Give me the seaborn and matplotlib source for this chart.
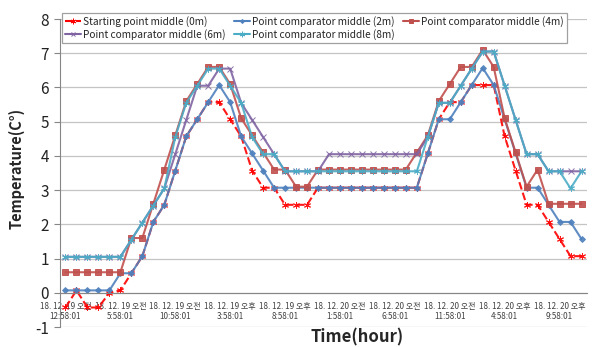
import matplotlib
matplotlib.use("Agg")
import matplotlib.pyplot as plt
import seaborn as sns
import numpy as np
import pandas as pd
from matplotlib.lines import Line2D

# ---- data ----
hours = list(range(48))
tick_idx = [0, 5, 10, 15, 20, 25, 30, 35, 40, 45]
tick_labels = [
    "18. 12. 19 오전\n12:58:01", "18. 12. 19 오전\n5:58:01", "18. 12. 19 오전\n10:58:01",
    "18. 12. 19 오후\n3:58:01", "18. 12. 19 오후\n8:58:01", "18. 12. 20 오전\n1:58:01",
    "18. 12. 20 오전\n6:58:01", "18. 12. 20 오전\n11:58:01", "18. 12. 20 오후\n4:58:01",
    "18. 12. 20 오후\n9:58:01",
]
names = ["Starting point middle (0m)", "Point comparator middle (2m)",
         "Point comparator middle (4m)", "Point comparator middle (6m)",
         "Point comparator middle (8m)"]

s0m = [-0.43, 0.07, -0.43, -0.43, 0.0, 0.07, 0.57, 1.07, 2.07, 2.57, 3.57, 4.57,
       5.07, 5.57, 5.57, 5.07, 4.57, 3.57, 3.07, 3.07, 2.57, 2.57, 2.57, 3.07,
       3.07, 3.07, 3.07, 3.07, 3.07, 3.07, 3.07, 3.07, 3.07, 4.07, 5.07, 5.57,
       5.57, 6.07, 6.07, 6.07, 4.57, 3.57, 2.57, 2.57, 2.07, 1.57, 1.07, 1.07]
s2m = [0.07, 0.07, 0.07, 0.07, 0.07, 0.57, 0.57, 1.07, 2.07, 2.57, 3.57, 4.57,
       5.07, 5.57, 6.07, 5.57, 4.57, 4.07, 3.57, 3.07, 3.07, 3.07, 3.07, 3.07,
       3.07, 3.07, 3.07, 3.07, 3.07, 3.07, 3.07, 3.07, 3.07, 4.07, 5.07, 5.07,
       5.57, 6.07, 6.57, 6.07, 5.07, 4.07, 3.07, 3.07, 2.57, 2.07, 2.07, 1.57]
s4m = [0.6, 0.6, 0.6, 0.6, 0.6, 0.6, 1.6, 1.6, 2.6, 3.6, 4.6, 5.6,
       6.1, 6.6, 6.6, 6.1, 5.1, 4.6, 4.1, 3.6, 3.6, 3.1, 3.1, 3.6,
       3.6, 3.6, 3.6, 3.6, 3.6, 3.6, 3.6, 3.6, 4.1, 4.6, 5.6, 6.1,
       6.6, 6.6, 7.1, 6.6, 5.1, 4.1, 3.1, 3.6, 2.6, 2.6, 2.6, 2.6]
s6m = [1.05, 1.05, 1.05, 1.05, 1.05, 1.05, 1.55, 2.05, 2.55, 3.05, 4.05, 5.05,
       6.05, 6.05, 6.55, 6.55, 5.55, 5.05, 4.55, 4.05, 3.55, 3.55, 3.55, 3.55,
       4.05, 4.05, 4.05, 4.05, 4.05, 4.05, 4.05, 4.05, 4.05, 4.55, 5.55, 5.55,
       6.05, 6.55, 7.05, 7.05, 6.05, 5.05, 4.05, 4.05, 3.55, 3.55, 3.55, 3.55]
s8m = [1.05, 1.05, 1.05, 1.05, 1.05, 1.05, 1.55, 2.05, 2.55, 3.05, 4.55, 5.55,
       6.05, 6.55, 6.55, 6.05, 5.55, 4.55, 4.05, 4.05, 3.55, 3.55, 3.55, 3.55,
       3.55, 3.55, 3.55, 3.55, 3.55, 3.55, 3.55, 3.55, 3.55, 4.55, 5.55, 5.55,
       6.05, 6.55, 7.05, 7.05, 6.05, 5.05, 4.05, 4.05, 3.55, 3.55, 3.05, 3.55]

# ---- style ----
sns.set_style("white")
plt.rcParams['font.family'] = ['Noto Sans CJK KR', 'DejaVu Sans']
plt.rcParams['axes.unicode_minus'] = False

fig = plt.figure(figsize=(6.12, 3.47), dpi=100)
ax = fig.add_axes([60 / 612, 1 - 327 / 347, 527 / 612, 308 / 347])

series = [s0m, s2m, s4m, s6m, s8m]
colors = ["#FF0000", "#4F81BD", "#C0504D", "#8064A2", "#4BACC6"]
markers = [(6, 2, 0), "D", "s", "x", (6, 2, 0)]
msizes = [5, 3, 4, 4, 5]
lstyles = ["--", "-", "-", "-", "-"]

handles = []
for vals, name, c, m, ms, ls in zip(series, names, colors, markers, msizes, lstyles):
    df = pd.DataFrame({"hour": hours, "temp": vals})
    sns.lineplot(data=df, x="hour", y="temp", ax=ax, color=c, marker=m,
                 markersize=ms, linestyle=ls, linewidth=1.5,
                 markeredgecolor=c, markerfacecolor=c, markeredgewidth=0.7,
                 alpha=0.9, legend=False)
    handles.append(Line2D([], [], color=c, marker=m, markersize=ms - 1,
                          linestyle=ls, linewidth=1.5, markeredgecolor=c,
                          markeredgewidth=0.7))

ax.set_xlim(-0.5, 47.5)
ax.set_ylim(-1, 8)
ax.set_yticks(range(-1, 9))
ax.yaxis.grid(True, color="#c4c4c4", linewidth=0.9)
ax.set_axisbelow(True)

for sp in ["top", "right"]:
    ax.spines[sp].set_visible(False)
ax.spines["left"].set_color("#868686")
ax.spines["bottom"].set_color("#868686")
ax.spines["bottom"].set_position(("data", 0))

ax.set_xticks(tick_idx)
ax.set_xticklabels(tick_labels, fontsize=5.8, color="#404040", linespacing=1.2)
ax.set_xticks(np.arange(-0.5, 48, 1), minor=True)
ax.tick_params(axis="x", which="major", length=0, pad=6.5)
ax.tick_params(axis="x", which="minor", length=3, color="#868686", direction="out")
ax.tick_params(axis="y", length=4, color="#868686", labelsize=11, labelcolor="#222222", pad=4)
ax.tick_params(axis="y", which="both", left=True)

ax.set_xlabel("")
ax.set_ylabel("")
fig.text(17 / 612, 1 - 168 / 347, "Temperature(C°)", rotation=90, fontsize=10.5,
         fontweight="bold", ha="center", va="center")
fig.text(357 / 612, 1 - 337 / 347, "Time(hour)", fontsize=12,
         fontweight="bold", ha="center", va="center")

order = [0, 3, 1, 4, 2]
leg = fig.legend([handles[i] for i in order], [names[i] for i in order],
                 ncol=3, loc="upper left", bbox_to_anchor=(62 / 612, 1 - 13 / 347),
                 fontsize=7.3, frameon=True, fancybox=False, edgecolor="#a0a0a0",
                 framealpha=1, borderpad=0.3, labelspacing=0.2, handlelength=1.6,
                 handletextpad=0.2, columnspacing=0.8, borderaxespad=0)
leg.get_frame().set_linewidth(0.9)

fig.savefig("out.png", dpi=100)
